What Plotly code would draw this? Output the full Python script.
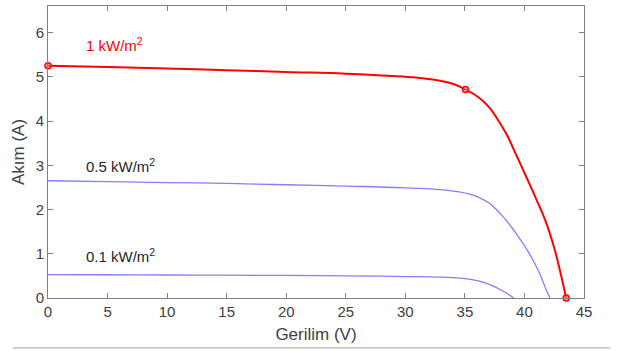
import plotly.graph_objects as go

# 1 kW/m2 curve
v_1000 = [0, 5, 10, 15, 20, 25, 28, 30.5, 32.9, 34.1, 35.05, 35.8, 36.5, 37.1, 37.6, 38.5, 39.3, 40.15, 41.0, 41.8, 42.5, 43.0, 43.5]
i_1000 = [5.25, 5.22, 5.19, 5.15, 5.11, 5.07, 5.03, 4.99, 4.91, 4.83, 4.71, 4.60, 4.46, 4.29, 4.10, 3.70, 3.24, 2.74, 2.23, 1.72, 1.13, 0.60, 0.0]
# 0.5 kW/m2 curve
v_500 = [0, 5, 10, 15, 20, 25, 30, 33.4, 35.4, 36.2, 37.07, 37.6, 38.2, 38.75, 39.3, 40.4, 41.27, 41.83, 42.15]
i_500 = [2.65, 2.63, 2.61, 2.59, 2.56, 2.53, 2.49, 2.44, 2.35, 2.27, 2.14, 2.01, 1.84, 1.66, 1.46, 1.01, 0.56, 0.18, 0.0]
# 0.1 kW/m2 curve
v_100 = [0, 5, 10, 15, 20, 25, 30, 32.9, 35.0, 36.2, 37.2, 38.3, 39.1]
i_100 = [0.53, 0.525, 0.52, 0.515, 0.51, 0.50, 0.485, 0.47, 0.44, 0.38, 0.29, 0.14, 0.0]
# marked points on 1 kW/m2 curve
v_marks = [0, 35.05, 43.5]
i_marks = [5.25, 4.71, 0.0]

labels = ["1 kW/m<sup>2</sup>", "0.5 kW/m<sup>2</sup>", "0.1 kW/m<sup>2</sup>"]
label_v = [3.0, 3.0, 3.0]
label_i = [5.72, 3.0, 0.95]
label_colors = ["#ff0000", "#262626", "#262626"]

xticks = [0, 5, 10, 15, 20, 25, 30, 35, 40, 45]
yticks = [0, 1, 2, 3, 4, 5, 6]

FONT = "Liberation Sans, Arial"
blue = "rgb(128,128,255)"
fig = go.Figure()
fig.add_trace(go.Scatter(x=v_100, y=i_100, mode="lines", line=dict(color=blue, width=1.3, shape="spline", smoothing=1.3)))
fig.add_trace(go.Scatter(x=v_500, y=i_500, mode="lines", line=dict(color=blue, width=1.3, shape="spline", smoothing=1.3)))
fig.add_trace(go.Scatter(x=v_1000, y=i_1000, mode="lines", line=dict(color="#ff0000", width=2, shape="spline", smoothing=1.3)))
fig.add_trace(go.Scatter(x=v_marks, y=i_marks, mode="markers", cliponaxis=False,
                         marker=dict(symbol="circle", size=6, color="rgba(255,120,120,0.6)", line=dict(color="#ff0000", width=1.5))))

for t, xv, yv, c in zip(labels, label_v, label_i, label_colors):
    fig.add_annotation(x=xv, y=yv, text=t, showarrow=False, xanchor="left", yanchor="middle",
                       font=dict(size=15, color=c, family=FONT))

axis_common = dict(showgrid=False, zeroline=False, showline=True, linecolor="#808080", linewidth=1,
                   mirror="ticks", ticks="inside", ticklen=5, tickcolor="#808080",
                   tickfont=dict(size=15, color="#404040", family=FONT))
fig.update_xaxes(range=[0, 45], tickvals=xticks,
                 title=dict(text="Gerilim (V)", font=dict(size=17, color="#404040", family=FONT), standoff=9),
                 **axis_common)
fig.update_yaxes(range=[0, 6.6], tickvals=yticks,
                 title=dict(text="Akım (A)", font=dict(size=17, color="#404040", family=FONT), standoff=6),
                 **axis_common)

fig.add_shape(type="line", xref="paper", yref="paper", x0=-0.066, x1=1.049, y0=-0.171, y1=-0.171,
              line=dict(color="#a0a0a0", width=1))

fig.update_layout(width=623, height=351, margin=dict(l=48, r=39, t=6, b=53),
                  plot_bgcolor="white", paper_bgcolor="white", showlegend=False)
fig.write_html("out.html")
